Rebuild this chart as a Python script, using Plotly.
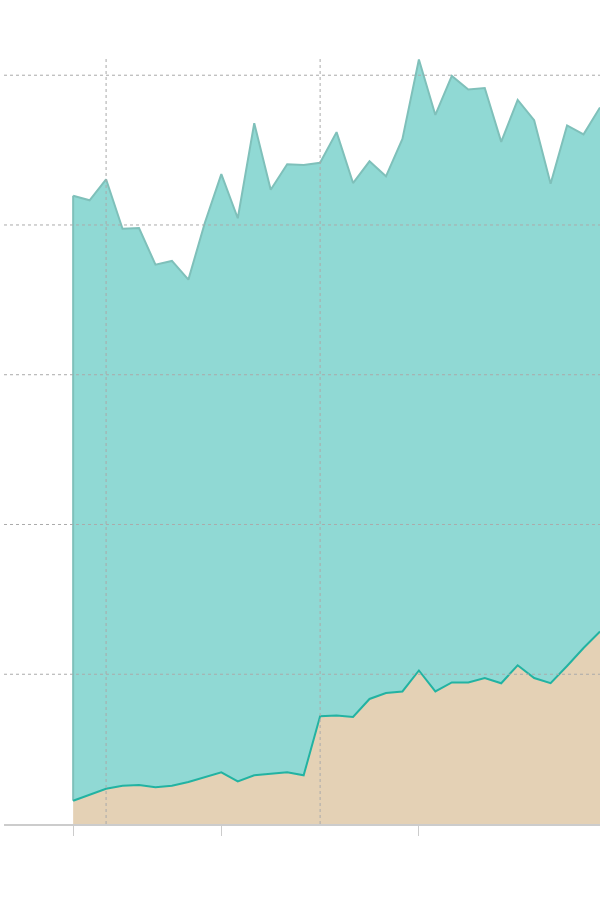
import plotly.graph_objects as go

# month index positions
months = list(range(33))

# top of the stacked area (total)
total = [83.9, 83.3, 86.1, 79.5, 79.6, 74.7, 75.2, 72.7, 80.3, 86.8,
         80.9, 93.6, 84.7, 88.1, 88.0, 88.3, 92.4, 85.6, 88.5, 86.5,
         91.5, 102.1, 94.7, 99.9, 98.1, 98.3, 91.1, 96.7, 94.0, 85.5,
         93.3, 92.1, 95.7]

# lower band
lower = [3.1, 3.9, 4.7, 5.1, 5.2, 4.9, 5.1, 5.6, 6.3, 6.9,
         5.7, 6.5, 6.7, 6.9, 6.5, 14.4, 14.5, 14.3, 16.7, 17.5,
         17.7, 20.5, 17.7, 18.9, 18.9, 19.5, 18.8, 21.2, 19.5, 18.8,
         21.1, 23.5, 25.7]

y_grid = [20, 40, 60, 80, 100]
x_ticks = [0, 9, 21]
x_vgrid = [2, 15]

fig = go.Figure()

fig.add_trace(go.Scatter(
    x=months, y=lower, mode="lines", fill="tozeroy",
    fillcolor="#e4d1b5", line=dict(color="#e4d1b5", width=0),
    hoverinfo="skip", showlegend=False))

fig.add_trace(go.Scatter(
    x=months, y=total, mode="lines", fill="tonexty",
    fillcolor="#90d9d4", line=dict(color="#7fc0ba", width=2),
    hoverinfo="skip", showlegend=False))

# left edge of upper band
fig.add_trace(go.Scatter(
    x=[months[0], months[0]], y=[lower[0], total[0]], mode="lines",
    line=dict(color="#7fc0ba", width=2), hoverinfo="skip", showlegend=False))

# lower series line
fig.add_trace(go.Scatter(
    x=months, y=lower, mode="lines",
    line=dict(color="#22b3a2", width=2),
    hoverinfo="skip", showlegend=False))

shapes = []
for g in y_grid:
    shapes.append(dict(type="line", xref="paper", yref="y", x0=0.0, x1=1,
                       y0=g, y1=g, layer="above",
                       line=dict(color="#aaaaaa", width=1, dash="dot")))
for v in x_vgrid:
    shapes.append(dict(type="line", xref="x", yref="paper", x0=v, x1=v,
                       y0=0, y1=1, layer="above",
                       line=dict(color="#aaaaaa", width=1, dash="dot")))

fig.update_layout(
    width=600, height=900,
    margin=dict(l=4, r=0, t=58, b=76),
    paper_bgcolor="white", plot_bgcolor="white",
    shapes=shapes,
    xaxis=dict(range=[-4.2, 32], showgrid=False, zeroline=False,
               tickmode="array", tickvals=x_ticks, ticks="outside",
               ticklen=10, tickcolor="#cccccc", tickwidth=1,
               showticklabels=False, showline=True, linecolor="#cccccc",
               linewidth=2, fixedrange=True),
    yaxis=dict(range=[0, 102.3], showgrid=False, zeroline=False,
               showticklabels=False, showline=False, fixedrange=True),
)

fig.write_html(
    "out.html",
    config={"displayModeBar": False},
    post_script="document.body.style.margin='0';document.body.style.overflow='hidden';",
)
